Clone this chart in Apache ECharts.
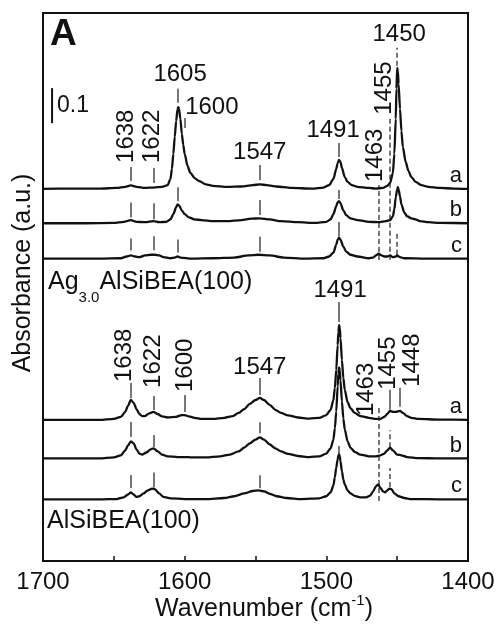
<!DOCTYPE html>
<html>
<head>
<meta charset="utf-8">
<script src="https://cdn.jsdelivr.net/npm/echarts@6/dist/echarts.min.js"></script>
<style>
  html, body { margin: 0; padding: 0; background: #fff; }
  #chart { width: 499px; height: 628px; }
</style>
</head>
<body>
<div id="chart"></div>
<script>
// ---- Axis ----
const X_MIN = 1400, X_MAX = 1700;
const X_TICK_STEP = 50;
const X_LABEL_STEP = 100;

// ---- Spectra: [wavenumber (cm-1), absorbance] ----
// Ag3.0AlSiBEA(100)
const agA = [[1700,0],[1680,0.001],[1660,0.001],[1648,0.003],[1642,0.006],[1638,0.010],[1634,0.006],[1628,0.003],[1622,0.004],[1616,0.006],[1612,0.011],[1610,0.029],[1609,0.057],[1608,0.100],[1607,0.149],[1606,0.194],[1605,0.229],[1604.5,0.234],[1604,0.229],[1603,0.200],[1602,0.157],[1601,0.126],[1600,0.100],[1598,0.066],[1596,0.046],[1593,0.031],[1590,0.023],[1585,0.013],[1580,0.009],[1570,0.006],[1560,0.007],[1552,0.011],[1547,0.013],[1542,0.011],[1535,0.007],[1525,0.003],[1510,0.001],[1502,0.004],[1498,0.011],[1495,0.029],[1493,0.057],[1492,0.074],[1491,0.083],[1490,0.077],[1489,0.060],[1487,0.034],[1485,0.020],[1482,0.011],[1478,0.006],[1470,0.003],[1465,0.001],[1460,0.003],[1457,0.009],[1455,0.017],[1453,0.046],[1452,0.100],[1451,0.200],[1450.5,0.286],[1450,0.346],[1449.5,0.337],[1449,0.300],[1448,0.229],[1447,0.166],[1446,0.120],[1444,0.077],[1442,0.051],[1440,0.034],[1437,0.020],[1433,0.011],[1428,0.006],[1420,0.003],[1410,0.001],[1400,0]];
const agB = [[1700,0],[1670,0],[1650,0.001],[1643,0.004],[1638,0.009],[1634,0.004],[1628,0.003],[1622,0.006],[1618,0.003],[1613,0.004],[1610,0.011],[1608,0.026],[1606,0.046],[1605,0.054],[1604,0.051],[1602,0.037],[1600,0.026],[1597,0.017],[1593,0.011],[1588,0.009],[1580,0.006],[1570,0.006],[1560,0.009],[1553,0.013],[1547,0.014],[1540,0.011],[1532,0.006],[1520,0.003],[1508,0.001],[1500,0.004],[1497,0.011],[1495,0.026],[1493,0.049],[1492,0.060],[1491,0.063],[1490,0.057],[1488,0.037],[1486,0.023],[1483,0.014],[1478,0.009],[1470,0.004],[1463,0.003],[1458,0.006],[1455,0.009],[1453,0.020],[1452,0.040],[1451,0.074],[1450,0.097],[1449.5,0.103],[1449,0.097],[1448,0.077],[1447,0.054],[1445,0.031],[1443,0.020],[1440,0.014],[1437,0.011],[1434,0.006],[1428,0.003],[1420,0.001],[1400,0]];
const agC = [[1700,0],[1660,0],[1645,0.001],[1641,0.006],[1638,0.009],[1635,0.006],[1632,0.004],[1628,0.009],[1624,0.011],[1621,0.011],[1618,0.009],[1615,0.004],[1610,0.001],[1607,0.003],[1605,0.006],[1603,0.003],[1595,0],[1580,0.001],[1565,0.003],[1555,0.009],[1548,0.011],[1540,0.009],[1530,0.003],[1515,0],[1502,0.001],[1498,0.006],[1495,0.017],[1493,0.040],[1492,0.054],[1491,0.060],[1490,0.054],[1488,0.034],[1486,0.020],[1483,0.011],[1478,0.006],[1470,0.001],[1467,0.003],[1465,0.009],[1463,0.014],[1461,0.009],[1459,0.006],[1457,0.006],[1455,0.009],[1453,0.004],[1451,0.006],[1450,0.009],[1448,0.004],[1445,0.001],[1430,0],[1400,0]];
// AlSiBEA(100)
const alA = [[1700,0],[1660,0],[1650,0.003],[1645,0.009],[1642,0.023],[1640,0.040],[1638,0.057],[1636,0.049],[1634,0.031],[1632,0.017],[1630,0.011],[1628,0.011],[1625,0.019],[1622,0.023],[1619,0.017],[1616,0.010],[1612,0.007],[1606,0.009],[1602,0.014],[1600,0.014],[1597,0.010],[1593,0.006],[1588,0.003],[1580,0.003],[1572,0.006],[1566,0.011],[1562,0.020],[1558,0.031],[1554,0.046],[1550,0.057],[1547,0.063],[1544,0.057],[1540,0.043],[1536,0.029],[1532,0.020],[1527,0.013],[1520,0.007],[1512,0.004],[1505,0.006],[1500,0.014],[1497,0.029],[1495,0.057],[1494,0.091],[1493,0.143],[1492,0.214],[1491.5,0.251],[1491,0.271],[1490.5,0.263],[1490,0.234],[1489,0.171],[1488,0.120],[1487,0.086],[1485,0.051],[1483,0.034],[1480,0.020],[1476,0.011],[1470,0.006],[1465,0.003],[1462,0.003],[1459,0.009],[1457,0.017],[1455,0.026],[1453,0.023],[1451,0.023],[1448,0.026],[1446,0.020],[1443,0.011],[1440,0.006],[1435,0.003],[1420,0.001],[1400,0]];
const alB = [[1700,0],[1660,0],[1650,0.003],[1645,0.009],[1642,0.023],[1640,0.037],[1638,0.049],[1636,0.043],[1634,0.026],[1632,0.014],[1630,0.011],[1627,0.017],[1624,0.026],[1622,0.029],[1619,0.020],[1616,0.011],[1612,0.006],[1605,0.004],[1600,0.004],[1595,0.003],[1585,0.003],[1575,0.006],[1568,0.011],[1562,0.020],[1558,0.031],[1554,0.043],[1550,0.054],[1547,0.060],[1544,0.054],[1540,0.040],[1536,0.029],[1532,0.020],[1527,0.013],[1520,0.007],[1512,0.004],[1505,0.006],[1500,0.014],[1497,0.029],[1495,0.054],[1494,0.086],[1493,0.134],[1492,0.206],[1491.5,0.243],[1491,0.260],[1490.5,0.251],[1490,0.223],[1489,0.163],[1488,0.114],[1487,0.083],[1485,0.049],[1483,0.031],[1480,0.019],[1476,0.011],[1470,0.006],[1465,0.006],[1462,0.009],[1459,0.014],[1457,0.023],[1455,0.031],[1453,0.023],[1450,0.011],[1447,0.009],[1443,0.004],[1435,0.001],[1420,0],[1400,0]];
const alC = [[1700,0],[1660,0],[1648,0.001],[1643,0.006],[1640,0.014],[1638,0.020],[1636,0.014],[1634,0.007],[1632,0.009],[1629,0.017],[1626,0.026],[1623,0.031],[1621,0.029],[1618,0.017],[1615,0.007],[1610,0.003],[1600,0.001],[1585,0.001],[1572,0.004],[1565,0.009],[1558,0.017],[1552,0.024],[1548,0.026],[1544,0.023],[1540,0.016],[1535,0.009],[1528,0.004],[1518,0.001],[1505,0.003],[1500,0.009],[1497,0.020],[1495,0.040],[1494,0.063],[1493,0.091],[1492,0.114],[1491.5,0.126],[1491,0.129],[1490.5,0.123],[1490,0.109],[1489,0.080],[1488,0.057],[1487,0.043],[1485,0.026],[1483,0.017],[1480,0.010],[1476,0.006],[1472,0.006],[1469,0.011],[1467,0.023],[1465,0.037],[1463.5,0.043],[1462,0.034],[1460,0.023],[1458.5,0.020],[1457,0.026],[1455.5,0.031],[1454,0.029],[1452,0.017],[1449,0.009],[1445,0.004],[1440,0.001],[1420,0],[1400,0]];

// ---- Labels ----
const TRACE_LETTERS = ['a', 'b', 'c'];
const AG_PEAKS = [1638, 1622, 1605, 1600, 1547, 1491, 1463, 1455, 1450];
const AL_PEAKS = [1638, 1622, 1600, 1547, 1491, 1463, 1455, 1448];
const SCALE_BAR = 0.1;   // absorbance

// ---- Layout ----
const W = 499, H = 628;
const GRID = { left: 43, right: 31, top: 13, bottom: 67 };
const Y_MAX = 1.5657;
const PX = (H - GRID.top - GRID.bottom) / Y_MAX;   // px per absorbance unit
const FONT = "'Liberation Sans', Arial, Helvetica, sans-serif";
const INK = '#111';
const MARK_INK = '#555';

// Per-peak annotation layout: tick = [trace index, gap px above trace, length px, dashed]
const AG_LAYOUT = {
  1638: { rot: true,  dx: -4,   lab: 4,    ticks: [[0, 4.5, 14], [1, 2.5, 15], [2, 5, 12]] },
  1622: { rot: true,  dx: -1.5, lab: 5,    ticks: [[0, 4.5, 15], [1, 2, 16], [2, 4.5, 14]] },
  1605: { rot: false, dx: 2.5,  lab: 14,   ticks: [[0, 6, 14], [1, 3, 14], [2, 4, 13]] },
  1600: { rot: false, dx: 0.5,  lab: 10.5, align: 'left', ticks: [[0, 26, 10]] },
  1547: { rot: false, dx: 0,    lab: 13,   ticks: [[0, 4.5, 15], [1, 3.3, 15], [2, 3, 15]] },
  1491: { rot: false, dx: -6,   lab: 13,   ticks: [[0, 3, 14], [1, 2.3, 9], [2, 1.2, 14.5]] },
  1463: { rot: true,  dx: -3,   lab: 3,    ticks: [[2, -6.3, 75, true]] },
  1455: { rot: true,  dx: -6,   lab: 3,    ticks: [[2, -4.3, 142, true]] },
  1450: { rot: false, dx: 2,    lab: 13,   ticks: [[0, 2, 18, true], [2, 0.7, 23, true]] }
};
const AL_LAYOUT = {
  1638: { rot: true,  dx: -6, lab: 1,  ticks: [[0, 2, 15], [1, 4.3, 15], [2, 4.3, 13]] },
  1622: { rot: true,  dx: 0,  lab: 8,  ticks: [[0, 2, 14], [1, 1.3, 12], [2, 1.3, 15]] },
  1600: { rot: true,  dx: 1,  lab: 3,  ticks: [[0, 3, 17]] },
  1547: { rot: false, dx: 0,  lab: 11, ticks: [[0, 3, 17], [1, 4.3, 11], [2, 2.3, 13]] },
  1491: { rot: false, dx: 1,  lab: 12, ticks: [[0, 3, 20], [2, 1.3, 7]] },
  1463: { rot: true,  dx: -12, lab: -8, ticks: [[2, -15.7, 93, true]] },
  1455: { rot: true,  dx: -2, lab: 0,  ticks: [[0, 1, 20], [1, 0.3, 17, true], [2, 1.7, 19, true]] },
  1448: { rot: true,  dx: 12, lab: 1,  ticks: [[0, 4, 19]] }
};

const GROUPS = [
  { traces: [agA, agB, agC], offsets: [1.063, 0.965, 0.864], peaks: AG_PEAKS, layout: AG_LAYOUT },
  { traces: [alA, alB, alC], offsets: [0.403, 0.293, 0.176], peaks: AL_PEAKS, layout: AL_LAYOUT }
];
const SCALE_BAR_POS = { wn: 1693.6, base: 1.251 };

// linear lookup on a spectrum (descending wavenumbers), used to seat annotation ticks
function valueAt(trace, wn) {
  for (let i = 0; i < trace.length - 1; i++) {
    const [x0, y0] = trace[i], [x1, y1] = trace[i + 1];
    if (wn <= x0 && wn >= x1) {
      return x0 === x1 ? y0 : y0 + (y1 - y0) * (x0 - wn) / (x0 - x1);
    }
  }
  return 0;
}

const series = [];
const tickItems = [];
const peakLabels = [];

GROUPS.forEach(g => {
  g.traces.forEach((tr, i) => {
    series.push({
      type: 'line',
      data: tr.map(p => [p[0], p[1] + g.offsets[i]]),
      symbol: 'none',
      smooth: 0.25,
      smoothMonotone: 'x',
      lineStyle: { color: INK, width: 2.3 },
      z: 3,
      silent: true
    });
  });
  g.peaks.forEach(wn => {
    const L = g.layout[wn];
    let topY = -Infinity;
    L.ticks.forEach(([ti, gap, len, dashed]) => {
      const y0 = g.offsets[ti] + valueAt(g.traces[ti], wn) + gap / PX;
      const y1 = y0 + len / PX;
      topY = Math.max(topY, y1);
      tickItems.push({
        coords: [[wn, y0], [wn, y1]],
        lineStyle: { type: dashed ? [5, 3] : 'solid' }
      });
    });
    peakLabels.push({ wn, top: topY, L });
  });
});

series.push({
  type: 'lines',
  coordinateSystem: 'cartesian2d',
  data: tickItems,
  lineStyle: { color: MARK_INK, width: 1.6, opacity: 1 },
  silent: true,
  z: 2
});

// 0.1 absorbance scale bar
series.push({
  type: 'line',
  data: [[SCALE_BAR_POS.wn, SCALE_BAR_POS.base], [SCALE_BAR_POS.wn, SCALE_BAR_POS.base + SCALE_BAR]],
  symbol: 'none',
  lineStyle: { color: INK, width: 2 },
  silent: true
});

const chart = echarts.init(document.getElementById('chart'), null, { renderer: 'canvas' });
chart.setOption({
  animation: false,
  backgroundColor: '#fff',
  grid: { ...GRID, show: true, borderColor: INK, borderWidth: 2, containLabel: false },
  xAxis: {
    type: 'value', min: X_MIN, max: X_MAX, inverse: true, interval: X_TICK_STEP,
    axisLine: { show: true, lineStyle: { color: INK, width: 2 } },
    axisTick: { show: true, inside: true, length: 5, lineStyle: { color: INK, width: 1.5 } },
    axisLabel: {
      color: INK, fontSize: 24, fontFamily: FONT, margin: 9,
      formatter: v => (v % X_LABEL_STEP === 0 ? String(v) : '')
    },
    splitLine: { show: false }
  },
  yAxis: {
    type: 'value', min: 0, max: Y_MAX,
    axisLine: { show: false }, axisTick: { show: false },
    axisLabel: { show: false }, splitLine: { show: false }
  },
  series
});

// ---- Text overlay ----
const toPx = p => chart.convertToPixel({ xAxisIndex: 0, yAxisIndex: 0 }, p);
const ctx = document.createElement('canvas').getContext('2d');
const textWidth = (t, f) => { ctx.font = f; return ctx.measureText(t).width; };

const graphics = [];
function txt(text, x, y, size, opt = {}) {
  graphics.push({
    type: 'text', x, y, rotation: opt.rotation || 0, silent: true, z: 10,
    style: {
      text, fill: INK,
      font: `${opt.weight || 'normal'} ${size}px ${FONT}`,
      align: opt.align || 'left', verticalAlign: opt.vAlign || 'middle'
    }
  });
}

peakLabels.forEach(({ wn, top, L }) => {
  const [px, py] = toPx([wn, top]);
  const x = px + L.dx, y = py - L.lab;
  if (L.rot) txt(String(wn), x, y, 24, { rotation: Math.PI / 2, align: 'left', vAlign: 'middle' });
  else txt(String(wn), x, y, 24, { align: L.align || 'center', vAlign: 'middle' });
});

// trace letters at the right edge
GROUPS.forEach(g => {
  g.offsets.forEach((off, i) => {
    const [, py] = toPx([X_MIN, off]);
    txt(TRACE_LETTERS[i], W - GRID.right - 6, py - 2, 22, { align: 'right', vAlign: 'bottom' });
  });
});

// scale bar label
{
  const [bx, by] = toPx([SCALE_BAR_POS.wn, SCALE_BAR_POS.base + SCALE_BAR / 2]);
  txt(String(SCALE_BAR), bx + 5, by, 23);
}

// panel letter
txt('A', 50, 35, 37, { weight: 'bold' });

// sample names
{
  const fMain = `normal 25px ${FONT}`, fSub = `normal 15px ${FONT}`;
  let x = 48;
  txt('Ag', x, 282, 25); x += textWidth('Ag', fMain);
  txt('3.0', x, 298, 15); x += textWidth('3.0', fSub);
  txt('AlSiBEA(100)', x, 282, 25);
  txt('AlSiBEA(100)', 47, 521, 25);
}

// axis titles
txt('Absorbance (a.u.)', 23, 273, 25, { rotation: Math.PI / 2, align: 'center', vAlign: 'middle' });
{
  const fMain = `normal 25px ${FONT}`, fSup = `normal 15px ${FONT}`;
  const a = 'Wavenumber (cm', s = '-1', c = ')';
  const total = textWidth(a, fMain) + textWidth(s, fSup) + textWidth(c, fMain);
  let x = 264 - total / 2;
  txt(a, x, 609, 25); x += textWidth(a, fMain);
  txt(s, x, 601, 15); x += textWidth(s, fSup);
  txt(c, x, 609, 25);
}

chart.setOption({ graphic: { elements: graphics } });
</script>
</body>
</html>
